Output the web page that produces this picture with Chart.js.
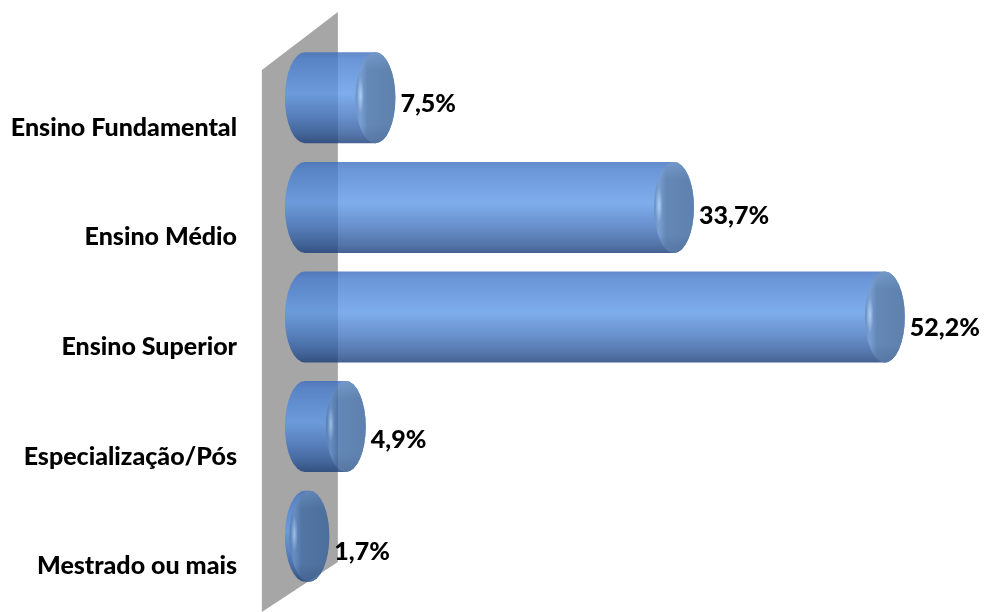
<!DOCTYPE html>
<html><head><meta charset="utf-8">
<script src="https://cdn.jsdelivr.net/npm/chart.js@4.4.0/dist/chart.umd.min.js"></script>
<style>html,body{margin:0;padding:0;background:#fff}#wrap{width:987px;height:612px;position:relative}</style>
</head><body><div id="wrap"><canvas id="c"></canvas></div>
<script>
const categories = ['Ensino Fundamental','Ensino Médio','Ensino Superior','Especialização/Pós','Mestrado ou mais'];
const values = [7.5, 33.7, 52.2, 4.9, 1.7];
const valueLabels = ['7,5%','33,7%','52,2%','4,9%','1,7%'];

const FONT = 'Lato, "Open Sans", sans-serif';
const FSIZE = 25;
const FWEIGHT = '900';
const CYL_START = -2.2; // value where the rounded left end of each cylinder sits

const wallPlugin = {
  id: 'wall',
  beforeDatasetsDraw(chart) {
    const { ctx, chartArea: a } = chart;
    const x0 = chart.scales.x.getPixelForValue(CYL_START);
    const xl = x0 - 23, xr = x0 + 53;
    ctx.save();
    ctx.fillStyle = '#a6a6a6';
    ctx.beginPath();
    ctx.moveTo(xl, a.top + 27);
    ctx.lineTo(xr, a.top - 31);
    ctx.lineTo(xr, a.bottom - 29);
    ctx.lineTo(xl, a.bottom + 21);
    ctx.closePath();
    ctx.fill();
    ctx.restore();
  }
};

const cylPlugin = {
  id: 'cyl',
  afterDatasetsDraw(chart) {
    const meta = chart.getDatasetMeta(0);
    const x0 = chart.scales.x.getPixelForValue(CYL_START);
    const off = document.createElement('canvas');
    off.width = chart.canvas.width; off.height = chart.canvas.height;
    const o = off.getContext('2d');
    const r = chart.currentDevicePixelRatio || 1;
    o.scale(r, r);
    meta.data.forEach((bar, i) => {
      const p = bar.getProps(['x', 'y', 'height'], true);
      const x = p.x, y = p.y, ry = p.height / 2, rx = 20;
      const cxL = x0 + rx;
      const cxR = Math.max(x - rx, cxL);
      const top = y - ry, bot = y + ry;
      const g = o.createLinearGradient(0, top, 0, bot);
      g.addColorStop(0, 'rgb(60,110,190)');
      g.addColorStop(0.08, 'rgb(70,124,206)');
      g.addColorStop(0.45, 'rgb(94,153,232)');
      g.addColorStop(0.72, 'rgb(66,115,189)');
      g.addColorStop(0.9, 'rgb(42,84,150)');
      g.addColorStop(1, 'rgb(24,59,119)');
      o.beginPath();
      o.moveTo(cxL, top);
      o.lineTo(cxR, top);
      o.ellipse(cxR, y, rx, ry, 0, -Math.PI / 2, Math.PI / 2);
      o.lineTo(cxL, bot);
      o.ellipse(cxL, y, rx, ry, 0, Math.PI / 2, Math.PI * 1.5);
      o.closePath();
      o.fillStyle = g;
      o.fill();
      // end face
      const fg = o.createLinearGradient(cxR - rx, 0, cxR + rx, 0);
      fg.addColorStop(0, 'rgb(74,120,182)');
      fg.addColorStop(0.12, 'rgb(88,136,200)');
      fg.addColorStop(0.3, 'rgb(62,106,165)');
      fg.addColorStop(1, 'rgb(54,97,152)');
      o.beginPath();
      o.ellipse(cxR, y, rx, ry, 0, 0, Math.PI * 2);
      o.fillStyle = fg;
      o.fill();
      const vg = o.createLinearGradient(0, top, 0, bot);
      vg.addColorStop(0, 'rgba(120,170,230,0.35)');
      vg.addColorStop(0.2, 'rgba(120,170,230,0)');
      vg.addColorStop(0.8, 'rgba(10,40,90,0)');
      vg.addColorStop(1, 'rgba(10,40,90,0.3)');
      o.fillStyle = vg;
      o.fill();
      // specular highlight on the bevel
      o.save();
      o.translate(cxR - rx + 5, y - ry * 0.05);
      o.scale(1, ry * 0.4 / 3.5);
      const hg = o.createRadialGradient(0, 0, 0, 0, 0, 3.5);
      hg.addColorStop(0, 'rgba(170,210,255,0.8)');
      hg.addColorStop(1, 'rgba(170,210,255,0)');
      o.beginPath();
      o.arc(0, 0, 3.5, 0, Math.PI * 2);
      o.fillStyle = hg;
      o.fill();
      o.restore();
    });
    const ctx = chart.ctx;
    ctx.save();
    ctx.setTransform(1, 0, 0, 1, 0, 0);
    ctx.globalAlpha = 0.8;
    ctx.drawImage(off, 0, 0);
    ctx.restore();
    ctx.save();
    ctx.font = FWEIGHT + ' ' + FSIZE + 'px ' + FONT;
    ctx.fillStyle = '#000';
    ctx.textAlign = 'left';
    ctx.textBaseline = 'middle';
    meta.data.forEach((bar, i) => {
      const p = bar.getProps(['x', 'y'], true);
      ctx.fillText(valueLabels[i], p.x + 5, p.y + 6 + 2.4 * i);
    });
    ctx.restore();
  }
};

new Chart(document.getElementById('c'), {
  type: 'bar',
  data: {
    labels: categories,
    datasets: [{
      data: values,
      backgroundColor: 'rgba(0,0,0,0)',
      borderWidth: 0,
      categoryPercentage: 1,
      barPercentage: 0.83
    }]
  },
  options: {
    indexAxis: 'y',
    responsive: true,
    maintainAspectRatio: false,
    animation: false,
    layout: { padding: { left: 0, right: 0, top: 43, bottom: 21 } },
    plugins: { legend: { display: false }, tooltip: { enabled: false } },
    scales: {
      x: { display: false, min: -6.4, max: 59.41 },
      y: {
        grid: { display: false, drawTicks: false },
        border: { display: false },
        afterFit(scale) { scale.width = 237; },
        ticks: {
          color: '#000',
          padding: 0,
          labelOffset: 30,
          font: { family: FONT, size: FSIZE, weight: FWEIGHT }
        }
      }
    }
  },
  plugins: [wallPlugin, cylPlugin]
});
</script>
</body></html>
